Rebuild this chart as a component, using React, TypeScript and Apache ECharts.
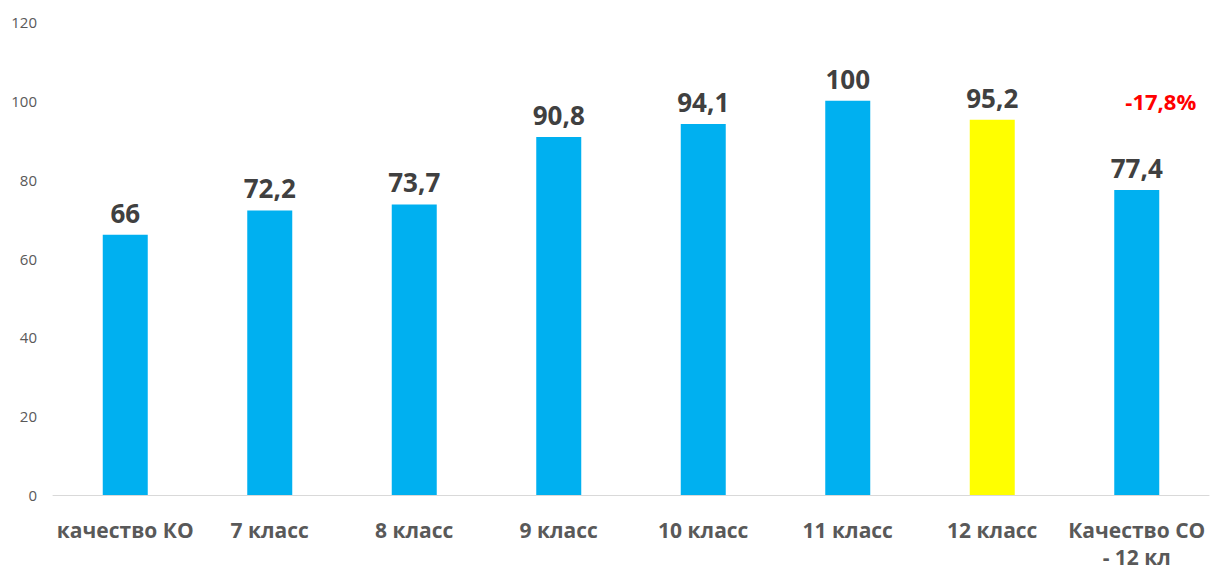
import React, { useEffect, useRef } from "react";
import * as echarts from "echarts";

const categories = [
  "качество КО",
  "7 класс",
  "8 класс",
  "9 класс",
  "10 класс",
  "11 класс",
  "12 класс",
  "Качество СО\n- 12 кл",
];
const values = [66, 72.2, 73.7, 90.8, 94.1, 100, 95.2, 77.4];
const highlightIndex = 6;
const noteText = "-17,8%";
const noteValue = 100;
const yTicks = { min: 0, max: 120, interval: 20 };

const FONT = "'Open Sans', 'Noto Sans', sans-serif";

export default function App() {
  const ref = useRef<HTMLDivElement>(null);
  useEffect(() => {
    if (!ref.current) return;
    const chart = echarts.init(ref.current, undefined, { renderer: "svg" });
    chart.setOption({
      animation: false,
      grid: { left: 53, right: 2, top: 22, bottom: 74, containLabel: false },
      xAxis: {
        type: "category",
        data: categories,
        axisLine: { lineStyle: { color: "#d9d9d9", width: 1 } },
        axisTick: { show: false },
        axisLabel: {
          interval: 0,
          margin: 21,
          fontFamily: FONT,
          fontSize: 21,
          fontWeight: "bold",
          color: "#595959",
          lineHeight: 27,
        },
      },
      yAxis: {
        type: "value",
        min: yTicks.min,
        max: yTicks.max,
        interval: yTicks.interval,
        splitLine: { show: false },
        axisLine: { show: false },
        axisTick: { show: false },
        axisLabel: { fontFamily: FONT, fontSize: 15, color: "#595959", margin: 16 },
      },
      series: [
        {
          type: "bar",
          barWidth: 45,
          data: values.map((v, i) => ({
            value: v,
            itemStyle: { color: i === highlightIndex ? "#FFFF00" : "#00B0F0" },
          })),
          label: {
            show: true,
            position: "top",
            distance: 9,
            fontFamily: FONT,
            fontSize: 26,
            fontWeight: "bold",
            color: "#404040",
            formatter: (p: any) => String(p.value).replace(".", ","),
          },
          markPoint: {
            symbol: "circle",
            symbolSize: 0,
            data: [
              {
                coord: [categories.length - 1, noteValue],
                label: {
                  show: true,
                  position: "inside",
                  offset: [24, 0],
                  formatter: noteText,
                  fontFamily: FONT,
                  fontSize: 22,
                  fontWeight: "bold",
                  color: "#FF0000",
                },
              },
            ],
          },
        },
      ],
    });
    return () => chart.dispose();
  }, []);
  return (
    <div
      ref={ref}
      style={{ position: "absolute", left: 0, top: 0, width: 1211, height: 570 }}
    />
  );
}
